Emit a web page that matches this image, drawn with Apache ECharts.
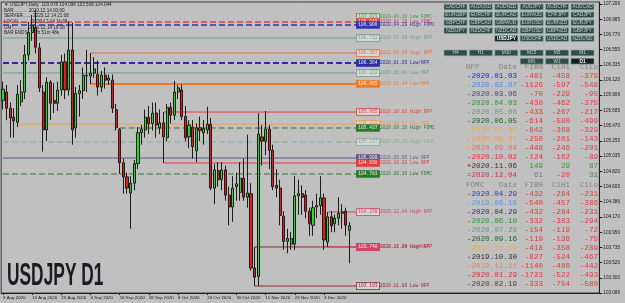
<!DOCTYPE html>
<html><head><meta charset="utf-8">
<script src="https://cdn.jsdelivr.net/npm/echarts@6/dist/echarts.min.js"></script>
<style>html,body{margin:0;padding:0;background:#c0c0c0;}#c{width:625px;height:303px;}</style>
</head><body><div id="c"></div>
<script>
// ---------- data ----------
const dates = ['3 Aug 2020','4 Aug 2020','5 Aug 2020','6 Aug 2020','7 Aug 2020','10 Aug 2020','11 Aug 2020','12 Aug 2020','13 Aug 2020','14 Aug 2020',
'17 Aug 2020','18 Aug 2020','19 Aug 2020','20 Aug 2020','21 Aug 2020','24 Aug 2020','25 Aug 2020','26 Aug 2020','27 Aug 2020','28 Aug 2020','31 Aug 2020',
'1 Sep 2020','2 Sep 2020','3 Sep 2020','4 Sep 2020','7 Sep 2020','8 Sep 2020','9 Sep 2020','10 Sep 2020','11 Sep 2020','14 Sep 2020','15 Sep 2020',
'16 Sep 2020','17 Sep 2020','18 Sep 2020','21 Sep 2020','22 Sep 2020','23 Sep 2020','24 Sep 2020','25 Sep 2020','28 Sep 2020','29 Sep 2020','30 Sep 2020',
'1 Oct 2020','2 Oct 2020','5 Oct 2020','6 Oct 2020','7 Oct 2020','8 Oct 2020','9 Oct 2020','12 Oct 2020','13 Oct 2020','14 Oct 2020','15 Oct 2020',
'16 Oct 2020','19 Oct 2020','20 Oct 2020','21 Oct 2020','22 Oct 2020','23 Oct 2020','26 Oct 2020','27 Oct 2020','28 Oct 2020','29 Oct 2020','30 Oct 2020',
'2 Nov 2020','3 Nov 2020','4 Nov 2020','5 Nov 2020','6 Nov 2020','9 Nov 2020','10 Nov 2020','11 Nov 2020','12 Nov 2020','13 Nov 2020','16 Nov 2020',
'17 Nov 2020','18 Nov 2020','19 Nov 2020','20 Nov 2020','23 Nov 2020','24 Nov 2020','25 Nov 2020','26 Nov 2020','27 Nov 2020','30 Nov 2020',
'1 Dec 2020','2 Dec 2020','3 Dec 2020','4 Dec 2020','7 Dec 2020','8 Dec 2020','9 Dec 2020','10 Dec 2020','11 Dec 2020','14 Dec 2020'];

const opens = [105.83,105.95,105.72,105.59,105.52,105.81,105.95,106.48,106.80,106.87,
106.58,105.95,105.41,106.09,105.83,105.79,105.98,106.38,105.98,106.55,105.44,
105.93,105.97,106.19,106.18,106.22,106.20,106.02,106.19,106.12,106.12,105.70,
105.42,104.94,104.74,104.51,104.65,104.93,105.37,105.41,105.59,105.50,105.65,
105.44,105.51,105.30,105.73,105.62,105.95,105.98,105.60,105.31,105.45,105.11,
105.44,105.37,105.41,105.49,104.58,104.83,104.70,104.84,104.48,104.31,104.60,
104.52,104.72,104.45,104.50,103.44,103.32,105.31,105.25,105.42,105.12,104.62,
104.58,104.18,103.82,103.78,103.78,104.47,104.50,104.48,104.25,104.05,
104.31,104.33,104.44,103.81,104.17,104.07,104.15,104.22,104.25,103.978];
const highs = [106.10,106.05,105.80,105.72,106.05,106.12,106.62,106.95,107.05,107.12,
106.65,106.05,106.16,106.12,106.08,106.10,106.48,106.50,106.95,106.94,106.02,
106.05,106.30,106.55,106.507,106.45,106.40,106.25,106.30,106.20,106.20,105.78,
105.437,105.00,104.80,104.75,104.98,105.45,105.48,105.70,105.75,105.80,105.80,
105.70,105.665,105.78,105.80,106.11,106.05,106.06,105.75,105.55,105.55,105.50,
105.60,105.55,105.74,105.58,104.92,104.95,104.95,104.90,104.60,104.75,104.80,
104.95,105.00,105.34,104.65,103.74,105.65,105.48,105.68,105.48,105.20,104.85,
104.70,104.25,104.00,103.95,104.75,104.70,104.62,104.55,104.30,104.40,
104.50,104.75,104.50,104.239,104.25,104.20,104.45,104.35,104.30,104.096];
const lows = [105.70,105.55,105.30,105.30,105.45,105.75,105.85,106.40,106.68,106.50,
105.95,105.10,105.25,105.55,105.65,105.68,105.90,105.85,105.90,105.20,105.30,
105.60,105.85,105.95,106.065,106.15,105.90,105.95,106.00,106.05,105.65,105.40,
104.781,104.50,104.50,104.00,104.55,104.85,105.20,105.30,105.35,105.40,105.30,
105.35,104.938,105.25,105.50,105.55,105.85,105.55,105.25,105.15,105.00,104.95,
105.25,105.20,105.35,104.55,104.35,104.60,104.55,104.40,104.05,104.10,104.40,
104.40,104.40,104.30,103.40,103.183,103.18,104.90,105.05,104.85,104.55,104.45,
104.05,103.70,103.65,103.70,103.70,104.20,104.20,104.15,103.90,103.90,
104.15,104.20,103.70,103.74,103.95,103.95,104.05,104.00,103.90,103.508];
const closes = [105.99,105.72,105.58,105.54,105.92,105.95,106.48,106.80,106.90,106.59,
106.01,105.41,106.09,105.79,105.79,105.98,106.38,105.98,106.55,105.41,105.93,
105.97,106.19,106.18,106.22,106.28,106.02,106.19,106.12,106.15,105.72,105.44,
104.94,104.74,104.58,104.65,104.93,105.37,105.42,105.59,105.50,105.65,105.48,
105.51,105.31,105.73,105.62,105.95,106.01,105.60,105.30,105.48,105.17,105.44,
105.40,105.43,105.49,104.58,104.84,104.70,104.84,104.48,104.31,104.58,104.64,
104.72,104.45,104.51,103.44,103.31,105.35,105.25,105.42,105.12,104.60,104.58,
104.19,103.82,103.86,103.86,104.47,104.50,104.45,104.25,104.07,104.30,
104.33,104.44,103.84,104.17,104.04,104.15,104.22,104.24,104.05,104.044];

const priceTicks = [107.206,106.985,106.770,106.555,106.335,106.120,105.906,105.685,105.470,105.255,
105.035,104.820,104.605,104.386,104.170,103.950,103.735,103.520,103.300,103.086];
const dateTicks = ['3 Aug 2020','13 Aug 2020','25 Aug 2020','4 Sep 2020','16 Sep 2020','28 Sep 2020',
'8 Oct 2020','20 Oct 2020','30 Oct 2020','11 Nov 2020','23 Nov 2020','3 Dec 2020'];
const lastPrice = 104.044;
const headerLines = ['\u25BC USDJPY,Daily  103.978 104.096 103.508 104.044','BAR..........  2020.12.14 00:00',
'SERVER......  2020.12.14 21:08','LOCAL........  2020.12.14 11:38','GMT..........  2020.12.14 19:18','BAR ENDS....  2h 51m 48s'];

// horizontal event levels
const levelPrices = [107.021,106.949,106.906,106.721,106.507,106.364,106.222,106.065,105.665,105.494,
105.437,105.237,105.009,104.938,104.781,104.239,103.740,103.740,103.183];
const levelStarts = [0,0,0,0,24,0,0,24,44,4,32,0,0,44,0,89,69,89,69];
const levelNames = ['2020.06.10 Low FOMC','2020.01.29 Low FOMC','2020.04.29 High FOMC','2020.05.08 High NFP',
'2020.09.04 High NFP','2020.01.03 Low/NFP','2020.05.08 Low NFP','2020.09.04 Low/NFP','2020.10.02 High NFP',
'2020.08.07 Low NFP','2020.09.16 High FOMC','2020.07.29 High FOMC','2020.03.06 Low NFP','2020.10.02 Low NFP',
'2020.09.16 Low FOMC','2020.12.04 High NFP','2020.11.06 High NFP','2020.12.04 Low/NFP','2020.11.06 Low NFP'];
const levelColors = ['#3c9c3c','#e04040','#3434b0','#6e9e86','#f06a40','#2c2ca8','#6e9e86','#f07a20','#e83a3a',
'#f0a040','#2a7a2a','#80b098','#5c5c8c','#e83a3a','#2a7a2a','#d44466','#8c2e2e','#d44466','#8c2e2e'];
const levelWidths = [0,1.5,1.5,1,1,2,1,2,1,1,1,1,1,1,1,1,1,1,1];
const levelDashed = [1,1,1,0,0,1,0,0,0,0,1,1,0,0,1,0,0,0,0];
const levelFilled = [0,1,1,0,0,1,0,1,0,0,1,0,1,1,1,0,0,1,0];
const levelEnd = 97;

const connIdx = [24,44,69,89];
const connHigh = [106.507,105.665,103.740,104.239];
const connLow = [106.065,104.938,103.183,103.740];
const connColors = ['#f06a40','#e83a3a','#8c2e2e','#d44466'];

// table
const nfpDates = ['-2020.01.03','-2020.02.07','-2020.03.06','-2020.04.03','-2020.05.08','-2020.06.05','-2020.07.02',
'-2020.08.07','-2020.09.04','-2020.10.02','+2020.11.06','=2020.12.04'];
const nfpFib = [-481,-1126,-70,-430,-433,-614,-842,-250,-448,-124,149,61];
const nfpC1Hi = [-458,-597,-229,-462,-267,-580,-368,-201,-246,-162,29,-20];
const nfpC1Lo = [-379,-548,-95,-375,-217,-499,-329,-143,-201,-89,87,31];
const nfpColors = ['#2222ff','#4a8fe0','#4a4a6c','#2a9a2a','#6a9a82','#1a6a1a','#e8b040','#f0a060','#f07040','#e83030','#4a3030','#c83050'];
const fomcDates = ['-2020.04.29','-2019.06.19','-2020.04.29','-2020.06.10','-2020.07.29','-2020.09.16','-2019.10.09',
'-2019.10.30','-2019.12.11','-2020.01.29','-2020.02.19'];
const fomcFib = [-432,-540,-432,-332,-154,-119,-418,-827,-1140,-1723,-333];
const fomcC1Hi = [-284,-457,-284,-383,-119,-138,-358,-524,-480,-522,-754];
const fomcC1Lo = [-231,-386,-231,-294,-72,-75,-289,-467,-442,-493,-580];
const fomcColors = ['#3a3aa8','#5a9ae0','#3a3a5c','#2a9a2a','#6a9a82','#1a6a1a','#e8b040','#333333','#f08050','#e03030','#5a3a3a'];
const tableHeader = ['Date','FIB%','C1Hi','C1Lo'];

const symbolRows = [['CADCHF','AUDUSD','AUDNZD','AUDJPY','AUDCHF','AUDCAD'],
['EURGBP','EURCHF','EURCAD','EURAUD','CHFJPY','CADJPY'],
['GBPCHF','GBPCAD','GBPAUD','EURUSD','EURNZD','EURJPY'],
['NZDJPY','NZDCHF','NZDCAD','GBPUSD','GBPNZD','GBPJPY'],
['','','USDJPY','USDCHF','USDCAD','NZDUSD']];
const tfRows = [['H4','H1','M30','M15','M5','M1'],['','','','MN','W1','D1']];
const activeButtons = ['USDJPY','D1'];

// ---------- build ----------
const SLOTS = 164;
const categories = dates.concat(new Array(SLOTS - dates.length).fill(''));
const candles = opens.map((o, i) => [o, closes[i], lows[i], highs[i]]);

const series = [{
  type: 'candlestick', data: candles, barWidth: 2.6, z: 5,
  itemStyle: { color: '#1fe01f', color0: '#ee1a1a', borderColor: '#1c1c1c', borderColor0: '#1c1c1c', borderWidth: 1 },
  markLine: {
    silent: true, symbol: 'none', animation: false,
    data: [{ yAxis: lastPrice, lineStyle: { opacity: 0 },
      label: { position: 'end', distance: 1, formatter: lastPrice.toFixed(3), backgroundColor: '#000', color: '#fff',
        fontSize: 4.6, fontFamily: 'Liberation Sans', padding: [1, 2] } }]
  }
}];

const MONO = '"Liberation Mono", monospace';
levelPrices.forEach((p, k) => {
  const c = levelColors[k];
  series.push({
    type: 'line', data: [[levelStarts[k], p], [levelEnd, p]], symbol: 'none', z: 2, silent: true,
    lineStyle: { color: c, width: levelWidths[k] || 1, opacity: levelWidths[k] ? 1 : 0, type: levelDashed[k] ? [6, 3] : 'solid' },
    endLabel: {
      show: true, distance: 0, align: 'left', verticalAlign: 'middle',
      formatter: '{b|' + p.toFixed(3) + '}{t|' + levelNames[k] + '}',
      rich: {
        b: { fontSize: 4.6, fontFamily: MONO, color: levelFilled[k] ? '#f0f0f0' : c,
             backgroundColor: levelFilled[k] ? c : '#d6d6d6', borderColor: c, borderWidth: 0.8, padding: [0.6, 1.5, 0.4, 1.5] },
        t: { fontSize: 4.6, fontFamily: MONO, color: c, padding: [0, 0, 0, 0.6] }
      }
    }
  });
});
series.push({
  type: 'line', data: [], silent: true,
  markLine: { symbol: 'none', animation: false, label: { show: false },
    data: connIdx.map((ix, k) => [{ coord: [ix, connHigh[k]], lineStyle: { color: connColors[k], width: 1, type: 'solid' } },
                                  { coord: [ix, connLow[k]] }]) }
});

// graphics
const g = [];
headerLines.forEach((t, k) => g.push({ type: 'text', x: 4, y: 5 + k * 5.6, silent: true,
  style: { text: t, font: '4.6px "Liberation Sans"', fill: '#1e1e1e', textVerticalAlign: 'middle' } }));

function button(label, x, y) {
  const active = activeButtons.indexOf(label) >= 0;
  g.push({ type: 'rect', shape: { x: x, y: y, width: 23, height: 5.8 }, silent: true,
    style: { fill: active ? '#122220' : '#2e4c48', stroke: '#8aa8a4', lineWidth: 0.6 } });
  if (label) g.push({ type: 'text', x: x + 11.5, y: y + 3, silent: true,
    style: { text: label, font: (active ? 'bold ' : '') + '4.8px "Liberation Sans"', fill: active ? '#ffffff' : '#c6d2d0',
      textAlign: 'center', textVerticalAlign: 'middle' } });
}
symbolRows.forEach((row, r) => row.forEach((s, c) => { if (s || r < 4) button(s, 444 + 25.4 * c, 4 + 7.9 * r); }));
tfRows.forEach((row, r) => row.forEach((s, c) => { if (s) button(s, 444 + 25.4 * c, 50 + 8.3 * r); }));

const colRight = [517, 543, 570, 598];
const ROW0 = 67, DY = 9.04;
const TFONT = '7.6px ' + MONO;
function txt(t, x, y, fill, align) {
  g.push({ type: 'text', x: x, y: y, silent: true,
    style: { text: t, font: TFONT, fill: fill, textAlign: align || 'right', textVerticalAlign: 'middle' } });
}
function numColor(v, fib) { if (v < 0) return '#ee3636'; if (fib && v < 100) return '#7a7a7a'; return '#2e9e2e'; }
function header(name, y) {
  txt(name, 466, y, '#858585', 'left');
  tableHeader.forEach((h, k) => txt(h, colRight[k], y, '#858585'));
}
header('NFP', ROW0);
nfpDates.forEach((d, k) => {
  const y = ROW0 + DY * (k + 1);
  txt(d, colRight[0], y, nfpColors[k]);
  txt(String(nfpFib[k]), colRight[1], y, numColor(nfpFib[k], true));
  txt(String(nfpC1Hi[k]), colRight[2], y, numColor(nfpC1Hi[k]));
  txt(String(nfpC1Lo[k]), colRight[3], y, numColor(nfpC1Lo[k]));
});
const fomcRow0 = ROW0 + DY * (nfpDates.length + 1);
header('FOMC', fomcRow0);
fomcDates.forEach((d, k) => {
  const y = fomcRow0 + DY * (k + 1);
  txt(d, colRight[0], y, fomcColors[k]);
  txt(String(fomcFib[k]), colRight[1], y, numColor(fomcFib[k], true));
  txt(String(fomcC1Hi[k]), colRight[2], y, numColor(fomcC1Hi[k]));
  txt(String(fomcC1Lo[k]), colRight[3], y, numColor(fomcC1Lo[k]));
});
g.push({ type: 'text', x: 7, y: 261, scaleX: 0.56, silent: true,
  style: { text: 'USDJPY D1', font: 'bold 31px "Liberation Sans"', fill: '#1b1b22', textVerticalAlign: 'top' } });

const chart = echarts.init(document.getElementById('c'), null, { renderer: 'canvas' });
chart.setOption({
  backgroundColor: '#c0c0c0',
  animation: false,
  grid: { left: -0.83, width: 600.2, top: 2, height: 291, show: true, borderColor: '#3c3c3c', borderWidth: 1, backgroundColor: 'transparent' },
  xAxis: {
    type: 'category', data: categories, boundaryGap: true,
    axisLine: { show: true, lineStyle: { color: '#202020', width: 1 } },
    axisTick: { show: true, alignWithLabel: true, length: 2, interval: (i, v) => dateTicks.indexOf(v) >= 0, lineStyle: { color: '#202020' } },
    axisLabel: { show: true, interval: (i, v) => dateTicks.indexOf(v) >= 0, align: 'left', margin: 3,
      fontSize: 4.4, fontFamily: 'Liberation Sans', color: '#151515' },
    splitLine: { show: false }
  },
  yAxis: {
    type: 'value', position: 'right', min: 103.0834, max: 107.2345, scale: true,
    axisLine: { show: true, lineStyle: { color: '#202020', width: 1 } },
    axisTick: { show: true, length: 3, customValues: priceTicks, lineStyle: { color: '#202020' } },
    axisLabel: { show: true, customValues: priceTicks, formatter: v => v.toFixed(3), margin: 4, fontSize: 4.6,
      fontFamily: 'Liberation Sans', color: '#151515' },
    splitLine: { show: false }
  },
  series: series,
  graphic: g
});
</script></body></html>
